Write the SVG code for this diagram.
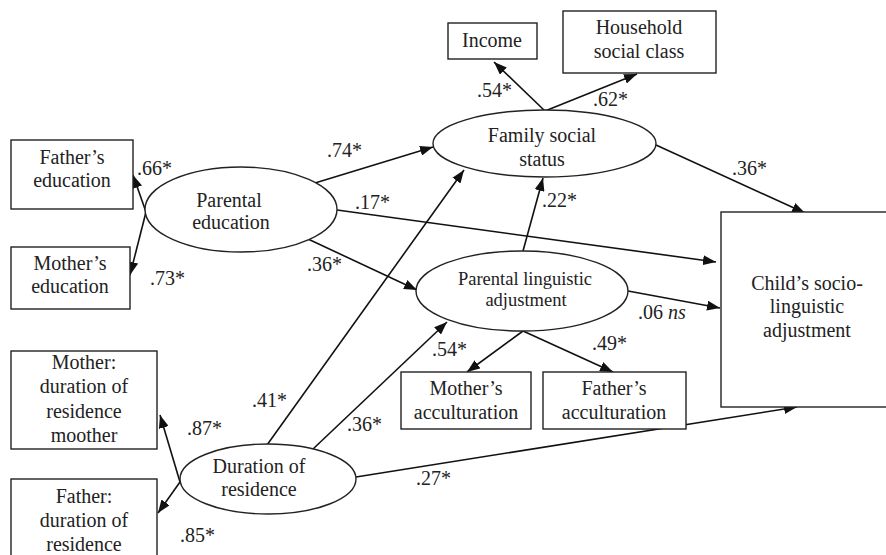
<svg xmlns="http://www.w3.org/2000/svg" width="886" height="555" viewBox="0 0 886 555" font-family="'Liberation Serif', 'Times New Roman', 'DejaVu Serif', serif">
  <style>
    .box { fill: #fff; stroke: #222; stroke-width: 1.4; }
    .lat { fill: #fff; stroke: #222; stroke-width: 1.4; }
    text { font-family: 'Liberation Serif', 'Times New Roman', 'DejaVu Serif', serif; fill: #222; }
    .t { font-size: 20px; text-anchor: middle; }
    .ts { font-size: 18.5px; text-anchor: middle; }
    .lbl { font-size: 20px; }
    .c line { stroke: #111; stroke-width: 1.6; fill: none; }
    .c line.a { marker-end: url(#ah); }
  </style>
  <defs>
    <marker id="ah" viewBox="0 0 13 10" refX="13" refY="5" markerWidth="13" markerHeight="10" markerUnits="userSpaceOnUse" orient="auto">
      <path d="M0,0 L13,5 L0,10 z" fill="#111"/>
    </marker>
  </defs>

  <rect width="886" height="555" fill="#fff"/>

  <!-- connectors -->
  <g id="connectors" class="c">
    <line class="a" x1="146" y1="212" x2="133" y2="175"/>
    <line class="a" x1="146" y1="212" x2="130" y2="275"/>
    <line class="a" x1="180" y1="482" x2="160" y2="415"/>
    <line class="a" x1="180" y1="482" x2="158" y2="513"/>
    <line class="a" x1="315" y1="183" x2="433" y2="147"/>
    <line class="a" x1="337" y1="210" x2="716" y2="262"/>
    <line class="a" x1="308" y1="239" x2="417" y2="290"/>
    <line class="a" x1="267" y1="445" x2="464" y2="170"/>
    <line class="a" x1="313" y1="449" x2="447" y2="322"/>
    <line class="a" x1="356" y1="477" x2="797" y2="407"/>
    <line class="a" x1="656" y1="145" x2="805" y2="213"/>
    <line class="a" x1="545" y1="111" x2="494" y2="62"/>
    <line class="a" x1="545" y1="111" x2="637" y2="74"/>
    <line class="a" x1="523" y1="251" x2="543" y2="178"/>
    <line class="a" x1="628" y1="291" x2="720" y2="308"/>
    <line class="a" x1="523" y1="331" x2="467" y2="372"/>
    <line class="a" x1="523" y1="331" x2="613" y2="372"/>
  </g>

  <!-- path coefficients -->
  <g id="coefficients">
    <text class="lbl" x="137" y="175">.66*</text>
    <text class="lbl" x="150" y="285">.73*</text>
    <text class="lbl" x="187" y="435">.87*</text>
    <text class="lbl" x="180" y="542">.85*</text>
    <text class="lbl" x="327" y="157">.74*</text>
    <text class="lbl" x="355" y="209">.17*</text>
    <text class="lbl" x="307" y="271">.36*</text>
    <text class="lbl" x="252" y="407">.41*</text>
    <text class="lbl" x="347" y="431">.36*</text>
    <text class="lbl" x="416" y="485">.27*</text>
    <text class="lbl" x="732" y="175">.36*</text>
    <text class="lbl" x="477" y="97">.54*</text>
    <text class="lbl" x="593" y="106">.62*</text>
    <text class="lbl" x="542" y="207">.22*</text>
    <text class="lbl" x="638" y="319">.06 <tspan font-style="italic">ns</tspan></text>
    <text class="lbl" x="432" y="356">.54*</text>
    <text class="lbl" x="592" y="350">.49*</text>
  </g>

  <!-- observed indicators -->
  <g id="fathers-education">
    <rect class="box" x="11" y="140" width="122" height="69"/>
    <text class="t" x="72" y="164">Father’s</text>
    <text class="t" x="72" y="187">education</text>
  </g>
  <g id="mothers-education">
    <rect class="box" x="11" y="247" width="119" height="62"/>
    <text class="t" x="70" y="270">Mother’s</text>
    <text class="t" x="70" y="293">education</text>
  </g>
  <g id="mother-duration">
    <rect class="box" x="11" y="351" width="146" height="98"/>
    <text class="t" x="84" y="369">Mother:</text>
    <text class="t" x="84" y="393">duration of</text>
    <text class="t" x="84" y="418">residence</text>
    <text class="t" x="84" y="442">moother</text>
  </g>
  <g id="father-duration">
    <rect class="box" x="11" y="479" width="146" height="90"/>
    <text class="t" x="84" y="503">Father:</text>
    <text class="t" x="84" y="527">duration of</text>
    <text class="t" x="84" y="551">residence</text>
  </g>
  <g id="income">
    <rect class="box" x="448" y="23" width="89" height="36"/>
    <text class="t" x="492" y="47">Income</text>
  </g>
  <g id="household-social-class">
    <rect class="box" x="563" y="11" width="153" height="62"/>
    <text class="t" x="639" y="34">Household</text>
    <text class="t" x="639" y="58">social class</text>
  </g>
  <g id="mothers-acculturation">
    <rect class="box" x="401" y="372" width="130" height="57"/>
    <text class="t" x="466" y="395">Mother’s</text>
    <text class="t" x="466" y="419">acculturation</text>
  </g>
  <g id="fathers-acculturation">
    <rect class="box" x="543" y="372" width="143" height="57"/>
    <text class="t" x="614" y="395">Father’s</text>
    <text class="t" x="614" y="419">acculturation</text>
  </g>
  <g id="child-adjustment">
    <rect class="box" x="721" y="212" width="180" height="195"/>
    <text class="t" x="807" y="290">Child’s socio-</text>
    <text class="t" x="807" y="313">linguistic</text>
    <text class="t" x="807" y="337">adjustment</text>
  </g>

  <!-- latent constructs -->
  <g id="parental-education">
    <ellipse class="lat" cx="241" cy="209.5" rx="96" ry="42.5"/>
    <text class="t" x="229" y="207">Parental</text>
    <text class="t" x="231" y="229">education</text>
  </g>
  <g id="duration-of-residence">
    <ellipse class="lat" cx="268" cy="479" rx="88" ry="35"/>
    <text class="t" x="259" y="473">Duration of</text>
    <text class="t" x="259" y="496">residence</text>
  </g>
  <g id="family-social-status">
    <ellipse class="lat" cx="544.5" cy="143.5" rx="111.5" ry="33.5"/>
    <text class="t" x="542" y="142">Family social</text>
    <text class="t" x="542" y="166">status</text>
  </g>
  <g id="parental-linguistic-adjustment">
    <ellipse class="lat" cx="522" cy="291" rx="106" ry="40"/>
    <text class="ts" x="525" y="285">Parental linguistic</text>
    <text class="ts" x="526" y="306">adjustment</text>
  </g>
</svg>
